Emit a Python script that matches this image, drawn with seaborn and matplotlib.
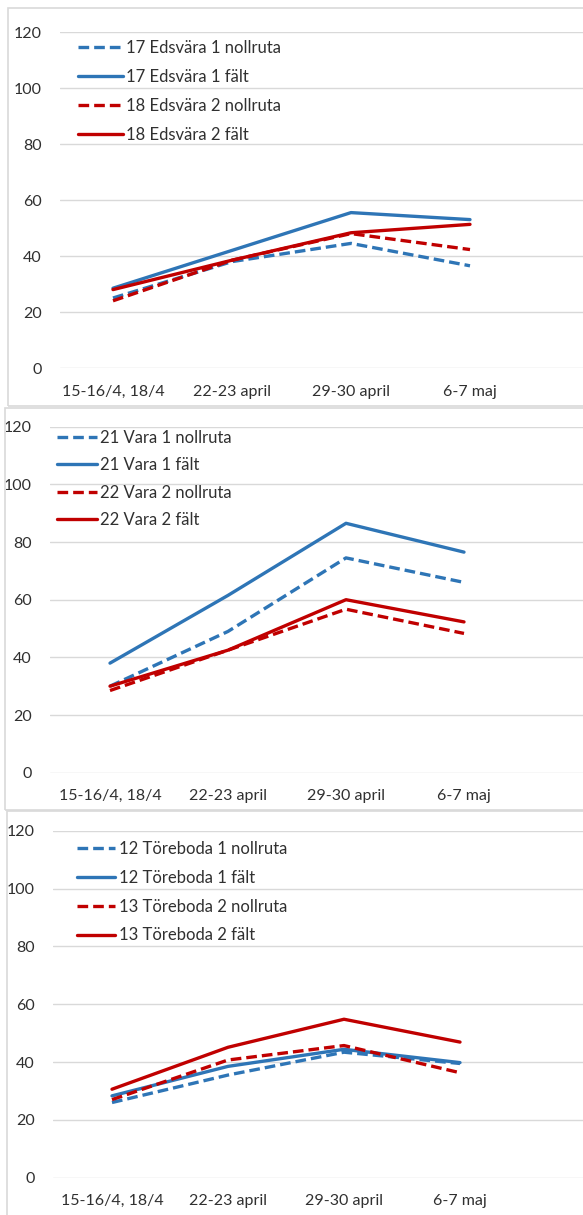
import pandas as pd
import matplotlib.pyplot as plt
import seaborn as sns
from matplotlib.patches import Rectangle

# x-axis categories (sampling dates)
dates = ["15-16/4, 18/4", "22-23 april", "29-30 april", "6-7 maj"]

# Edsvära
edsvara_17_noll = [25, 38, 44.5, 36.5]
edsvara_17_falt = [28.5, 42, 55.5, 53]
edsvara_18_noll = [24, 38.5, 48, 42.3]
edsvara_18_falt = [28, 38.5, 48.3, 51.3]

# Vara
vara_21_noll = [30, 49, 74.5, 66]
vara_21_falt = [38, 61.5, 86.5, 76.5]
vara_22_noll = [28.5, 42.5, 56.7, 48.3]
vara_22_falt = [30, 42.5, 60, 52.3]

# Töreboda
toreboda_12_noll = [26, 35.5, 43.4, 39.5]
toreboda_12_falt = [28.3, 38.5, 44.4, 39.8]
toreboda_13_noll = [27, 40.7, 45.7, 36.3]
toreboda_13_falt = [30.6, 45.1, 54.8, 46.9]

BLUE = "#2E75B6"
RED = "#C00000"
GRID = "#D9D9D9"
TEXT = "#303030"

sns.set_style("white")
plt.rcParams['font.family'] = ['Lato', 'DejaVu Sans']

W, H = 583, 1215
fig = plt.figure(figsize=(W / 100, H / 100), dpi=100)


def px_axes(left, top, right, bottom):
    return fig.add_axes([left / W, 1 - bottom / H, (right - left) / W, (bottom - top) / H])


def draw_panel(ax, series, left_px, x0, dx, legend_xy, handlelen, spacing):
    for label, vals, color, dashed in series:
        sns.lineplot(x=dates, y=vals, ax=ax, color=color, linewidth=2.4,
                     linestyle=(0, (3.2, 1.5)) if dashed else '-',
                     label=label, sort=False)
    # x limits so that category centers land where they do in the reference
    ax.set_xlim((left_px - x0) / dx, (W - x0) / dx)
    ax.set_ylim(0, 120)
    ax.set_yticks(range(0, 121, 20))
    ax.yaxis.grid(True, color=GRID, linewidth=1)
    ax.xaxis.grid(False)
    for s in ax.spines.values():
        s.set_visible(False)
    ax.tick_params(axis='both', length=0, labelsize=11.5, colors=TEXT)
    ax.tick_params(axis='y', pad=13)
    ax.tick_params(axis='x', pad=12)
    ax.set_xlabel("")
    ax.set_ylabel("")
    ax.set_facecolor("none")
    leg = ax.legend(loc='upper left', bbox_to_anchor=(legend_xy[0] / W, 1 - legend_xy[1] / H),
                    bbox_transform=fig.transFigure, frameon=False, fontsize=12,
                    handlelength=handlelen, handletextpad=0.2, labelspacing=spacing,
                    borderaxespad=0, borderpad=0)
    for t in leg.get_texts():
        t.set_color(TEXT)


# panel frames
for (l, t, b) in [(8, 8, 406), (5, 408, 810), (7, 811, 1220)]:
    fig.add_artist(Rectangle((l / W, 1 - b / H), (W + 10 - l) / W, (b - t) / H,
                             transform=fig.transFigure, fill=False,
                             edgecolor=GRID, linewidth=1.2))

ax1 = px_axes(60, 32, W, 368)
draw_panel(ax1, [
    ("17 Edsvära 1 nollruta", edsvara_17_noll, BLUE, True),
    ("17 Edsvära 1 fält", edsvara_17_falt, BLUE, False),
    ("18 Edsvära 2 nollruta", edsvara_18_noll, RED, True),
    ("18 Edsvära 2 fält", edsvara_18_falt, RED, False),
], left_px=60, x0=113, dx=119, legend_xy=(78, 40), handlelen=2.7, spacing=0.77)

ax2 = px_axes(50, 426.7, W, 772.7)
draw_panel(ax2, [
    ("21 Vara 1 nollruta", vara_21_noll, BLUE, True),
    ("21 Vara 1 fält", vara_21_falt, BLUE, False),
    ("22 Vara 2 nollruta", vara_22_noll, RED, True),
    ("22 Vara 2 fält", vara_22_falt, RED, False),
], left_px=50, x0=110, dx=118, legend_xy=(57, 430), handlelen=2.4, spacing=0.68)

ax3 = px_axes(53, 830.7, W, 1177.7)
draw_panel(ax3, [
    ("12 Töreboda 1 nollruta", toreboda_12_noll, BLUE, True),
    ("12 Töreboda 1 fält", toreboda_12_falt, BLUE, False),
    ("13 Töreboda 2 nollruta", toreboda_13_noll, RED, True),
    ("13 Töreboda 2 fält", toreboda_13_falt, RED, False),
], left_px=53, x0=112, dx=116, legend_xy=(77, 841), handlelen=2.3, spacing=0.77)

fig.savefig("out.png", dpi=100)
